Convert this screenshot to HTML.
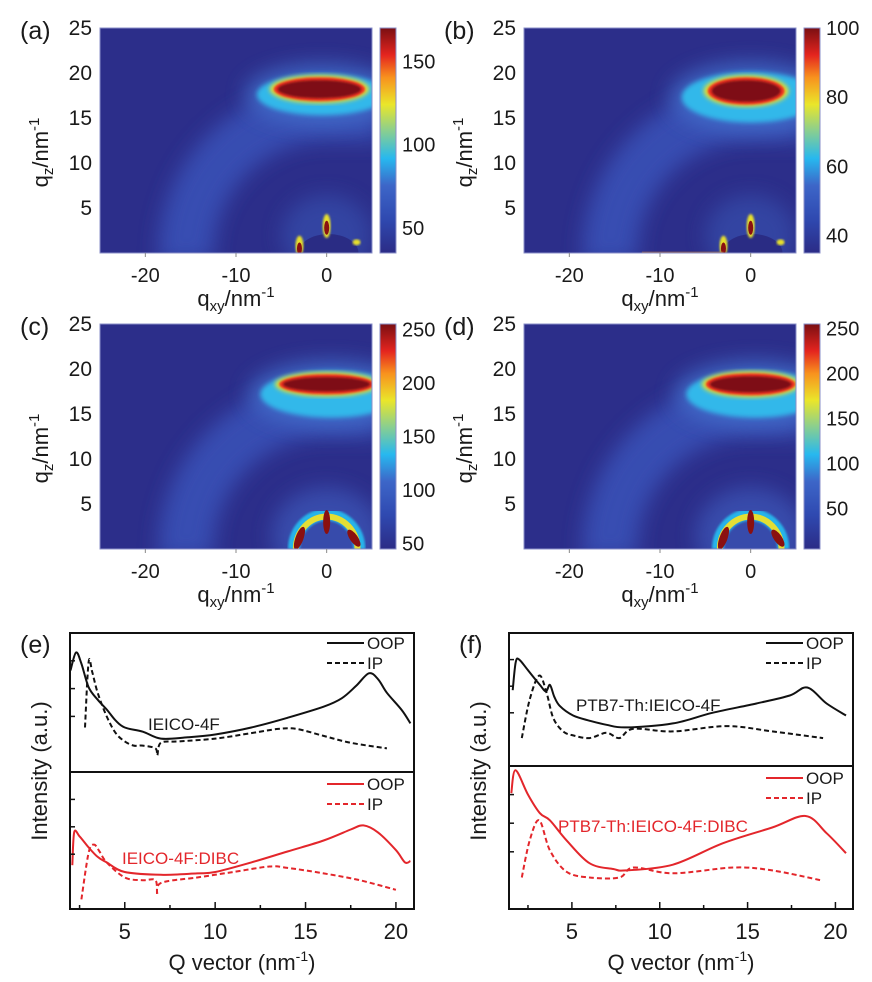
<!DOCTYPE html>
<html><head><meta charset="utf-8"><style>
html,body{margin:0;padding:0;background:#fff}
svg{display:block}
text{font-family:"Liberation Sans",sans-serif;fill:#1a1a1a}
</style></head><body>
<svg id="fig" width="872" height="982" viewBox="0 0 872 982" xmlns="http://www.w3.org/2000/svg">
<defs>
<linearGradient id="jet" x1="0" y1="1" x2="0" y2="0">
<stop offset="0" stop-color="#2b2c86"/><stop offset="0.15" stop-color="#2f49b0"/><stop offset="0.3" stop-color="#3d66c8"/>
<stop offset="0.42" stop-color="#27b8ef"/><stop offset="0.55" stop-color="#8fd08a"/><stop offset="0.66" stop-color="#eae62a"/>
<stop offset="0.78" stop-color="#f8921e"/><stop offset="0.88" stop-color="#e4241f"/><stop offset="1" stop-color="#7a0f12"/>
</linearGradient>
<filter id="blur8" x="-50%" y="-50%" width="200%" height="200%"><feGaussianBlur stdDeviation="10"/></filter>
<filter id="blur3"><feGaussianBlur stdDeviation="2.5"/></filter>
<filter id="blur1"><feGaussianBlur stdDeviation="1"/></filter>
</defs>
</svg>
<script>
// ---------- data ----------
const heatPanels = ['a','b','c','d'];
const heatX0 = [100,524,100,524];
const heatY0 = [28,28,324,324];
const cbTicks = [[150,100,50],[100,80,60,40],[250,200,150,100,50],[250,200,150,100,50]];
const cbMin = [35,35,45,5];
const cbMax = [170,100,255,255];
const qxyTicks = [-20,-10,0];
const qzTicks = [25,20,15,10,5];
// peak ellipse params per panel: [qxy, qz, rx, ry]
const peakCore = [[-0.8,18.2,4.6,1.0],[-0.5,18.0,3.8,1.2],[0,18.3,4.8,0.8],[0,18.3,4.5,0.9]];
const peakHalo = [[-0.5,17.6,7.2,2.3],[0,17.3,7.6,2.8],[0.5,17.2,7.8,2.6],[0.5,17.2,7.6,2.6]];

// line plots
const eOOPx=[2.0,2.3,2.6,3.0,3.5,4.0,4.5,5.0,6.0,7.0,8.5,10,12,14,16,17,17.8,18.5,19.0,19.5,20.3,20.8];
const eOOPy=[1.73,1.86,1.78,1.61,1.52,1.45,1.37,1.32,1.29,1.24,1.25,1.27,1.32,1.39,1.47,1.53,1.62,1.71,1.67,1.57,1.45,1.35];
const eIPx=[2.8,3.0,3.2,3.5,4.0,4.5,5.0,5.5,6.0,6.7,6.8,7.0,8,10,12,13.5,14.5,16,17.5,19.5];
const eIPy=[1.32,1.79,1.72,1.57,1.40,1.28,1.22,1.19,1.19,1.17,1.12,1.21,1.22,1.24,1.28,1.31,1.31,1.26,1.21,1.17];
const eOOPdx=[2.1,2.2,2.5,3.0,3.5,4.0,5.0,7.0,9.0,10,12,14,16,17.5,18.2,19,20,20.5,20.8];
const eOOPdy=[0.32,0.56,0.53,0.45,0.38,0.34,0.27,0.25,0.26,0.27,0.34,0.42,0.50,0.58,0.61,0.56,0.43,0.34,0.35];
const eIPdx=[2.6,3.0,3.3,3.6,4.0,5.0,6.0,6.7,6.8,7.0,9,11,13,14,16,18,20];
const eIPdy=[0.07,0.41,0.47,0.42,0.34,0.23,0.21,0.21,0.10,0.19,0.23,0.27,0.31,0.30,0.26,0.21,0.14];
const fOOPx=[1.63,1.8,2.0,2.5,3.18,3.52,3.75,4.0,4.32,5.07,6.02,6.97,8.1,10.75,13.0,15.5,17.4,18.4,19.5,20.6];
const fOOPy=[1.57,1.78,1.80,1.72,1.61,1.56,1.61,1.52,1.45,1.38,1.34,1.31,1.29,1.32,1.40,1.47,1.53,1.59,1.47,1.38];
const fIPx=[2.15,2.6,3.14,3.56,3.94,4.5,5.07,6.0,6.97,7.7,8.5,10.75,13.8,16.4,19.3];
const fIPy=[1.21,1.50,1.68,1.55,1.36,1.26,1.23,1.21,1.25,1.21,1.28,1.26,1.30,1.26,1.21];
const fOOPdx=[1.55,1.79,2.5,3.18,3.75,4.7,6.0,7.35,8.1,10.75,13.6,16.4,18.3,19.5,20.6];
const fOOPdy=[0.81,0.97,0.80,0.67,0.62,0.48,0.32,0.28,0.27,0.31,0.46,0.57,0.65,0.53,0.39];
const fIPdx=[2.15,2.6,3.14,3.75,4.7,6.0,7.7,8.5,10.75,14.2,16.4,19.2];
const fIPdy=[0.22,0.48,0.62,0.41,0.26,0.22,0.22,0.29,0.25,0.29,0.27,0.20];
const qTicks=[5,10,15,20];

// ---------- helpers ----------
const NS='http://www.w3.org/2000/svg';
const fig=document.getElementById('fig');
function mk(tag,attrs,parent){const e=document.createElementNS(NS,tag);for(const k in attrs)e.setAttribute(k,attrs[k]);(parent||fig).appendChild(e);return e;}
function txt(s,attrs,parent){const e=mk('text',attrs,parent);e.textContent=s;return e;}
function smooth(pts){
  let d='M'+pts[0][0].toFixed(1)+' '+pts[0][1].toFixed(1);
  for(let i=0;i<pts.length-1;i++){
    const p0=pts[Math.max(0,i-1)],p1=pts[i],p2=pts[i+1],p3=pts[Math.min(pts.length-1,i+2)];
    const c1=[p1[0]+(p2[0]-p0[0])/6,p1[1]+(p2[1]-p0[1])/6];
    const c2=[p2[0]-(p3[0]-p1[0])/6,p2[1]-(p3[1]-p1[1])/6];
    d+=` C${c1[0].toFixed(1)} ${c1[1].toFixed(1)} ${c2[0].toFixed(1)} ${c2[1].toFixed(1)} ${p2[0].toFixed(1)} ${p2[1].toFixed(1)}`;
  }
  return d;
}

// ---------- heatmaps ----------
const W=272,H=225;
heatPanels.forEach((p,i)=>{
  const x0=heatX0[i],y0=heatY0[i];
  const sx=q=>x0+(q+25)*W/30, sz=q=>y0+(25-q)*H/25;
  const g=mk('g',{});
  
  
  const cp=mk('clipPath',{id:'clip'+p},g);
  mk('rect',{x:x0,y:y0,width:W,height:H},cp);
  const inner=mk('g',{'clip-path':'url(#clip'+p+')'},g);
  mk('rect',{x:x0,y:y0,width:W,height:H,fill:'#2c2e8a'},inner);
  const r=15.5*W/30;
  const arc=mk('path',{d:`M ${sx(-15.5)} ${sz(-1)} A ${r} ${r} 0 0 1 ${sx(0)} ${sz(15.5)} L ${sx(6)} ${sz(15.5)}`,fill:'none',stroke:'#3a55bc','stroke-width':55,opacity:0.8,filter:'url(#blur8)'},inner);
  
  
  const ph=peakHalo[i],pc=peakCore[i];
  mk('ellipse',{cx:sx(ph[0]),cy:sz(ph[1]),rx:ph[2]*W/30+12,ry:ph[3]*H/25+10,fill:'#4270cc',opacity:0.8,filter:'url(#blur8)'},inner);
  mk('ellipse',{cx:sx(ph[0]),cy:sz(ph[1]),rx:ph[2]*W/30,ry:ph[3]*H/25,fill:'#30b8ea',filter:'url(#blur3)'},inner);
  mk('ellipse',{cx:sx(pc[0]),cy:sz(pc[1]),rx:pc[2]*W/30+8,ry:pc[3]*H/25+5,fill:'#e8e02c',filter:'url(#blur3)'},inner);
  mk('ellipse',{cx:sx(pc[0]),cy:sz(pc[1]),rx:pc[2]*W/30+4,ry:pc[3]*H/25+3,fill:'#ea3322',filter:'url(#blur1)'},inner);
  const core=mk('ellipse',{cx:sx(pc[0]),cy:sz(pc[1]),rx:pc[2]*W/30,ry:pc[3]*H/25,fill:'#7e1012',filter:'url(#blur1)'},inner);
  
  
  if(i<2){
    mk('ellipse',{cx:sx(0),cy:sz(2),rx:45,ry:40,fill:'#3753b2',opacity:0.6,filter:'url(#blur8)'},inner);
    mk('ellipse',{cx:sx(0.2),cy:sz(0),rx:30,ry:19,fill:'#2a2c84'},inner);
    mk('ellipse',{cx:sx(0),cy:sz(3),rx:4,ry:12,fill:'#e8e02c',filter:'url(#blur1)'},inner);
    mk('ellipse',{cx:sx(0),cy:sz(2.8),rx:2.5,ry:7,fill:'#8a1010'},inner);
    mk('ellipse',{cx:sx(-3),cy:sz(0.8),rx:4,ry:10,fill:'#e8e02c',filter:'url(#blur1)'},inner);
    mk('ellipse',{cx:sx(-3),cy:sz(0.5),rx:2.5,ry:6,fill:'#8a1010'},inner);
    mk('ellipse',{cx:sx(3.3),cy:sz(1.2),rx:4,ry:3,fill:'#e8e02c',filter:'url(#blur1)'},inner);
    if(i===1) mk('rect',{x:sx(-12),y:sz(0.15),width:sx(-3)-sx(-12),height:1.2,fill:'#d08030',opacity:0.6},inner);
  } else {
    const rr=3.2*W/30;
    mk('ellipse',{cx:sx(0),cy:sz(1.5),rx:55,ry:48,fill:'#3d58ba',opacity:0.7,filter:'url(#blur8)'},inner);
    mk('path',{d:`M ${sx(-3.6)} ${sz(0)} A ${rr} ${rr*1.05} 0 0 1 ${sx(3.6)} ${sz(0)}`,fill:'none',stroke:'#28b4ea','stroke-width':12,filter:'url(#blur1)'},inner);
    mk('path',{d:`M ${sx(-3.4)} ${sz(0)} A ${rr} ${rr*1.05} 0 0 1 ${sx(3.4)} ${sz(0)}`,fill:'none',stroke:'#e4de34','stroke-width':6},inner);
    mk('ellipse',{cx:sx(-3),cy:sz(1.2),rx:4,ry:12,fill:'#8a1010',transform:`rotate(20 ${sx(-3)} ${sz(1.2)})`},inner);
    mk('ellipse',{cx:sx(3),cy:sz(1.2),rx:4,ry:10,fill:'#8a1010',transform:`rotate(-35 ${sx(3)} ${sz(1.2)})`},inner);
    mk('ellipse',{cx:sx(0),cy:sz(3),rx:3.5,ry:12,fill:'#8a1010'},inner);
  }
  mk('rect',{x:x0,y:y0,width:W,height:H,fill:'none',stroke:'#8a8fc8','stroke-width':1},g);
  qxyTicks.forEach(t=>{
    mk('line',{x1:sx(t),x2:sx(t),y1:y0+H,y2:y0+H+4,stroke:'#888'},g);
    const tl=txt(String(t),{x:sx(t),y:y0+H+29,'font-size':20,'text-anchor':'middle'},g);
    
    
  });
  qzTicks.forEach(t=>{
    const tl=txt(String(t),{x:x0-8,y:sz(t)+7,'font-size':21,'text-anchor':'end'},g);
    
    
  });
  const lab=txt('('+p+')',{x:x0-80,y:y0+11,'font-size':25},g);
  
  
  const yt=txt('',{transform:`translate(${x0-52},${y0+H/2+12}) rotate(-90)`,'font-size':22,'text-anchor':'middle'},g);
  yt.innerHTML='q<tspan font-size="15" dy="5">z</tspan><tspan dy="-5">/nm</tspan><tspan font-size="15" dy="-9">-1</tspan>';
  
  
  const xt=txt('',{x:x0+W/2,y:y0+H+53,'font-size':22,'text-anchor':'middle'},g);
  xt.innerHTML='q<tspan font-size="15" dy="5">xy</tspan><tspan dy="-5">/nm</tspan><tspan font-size="15" dy="-9">-1</tspan>';
  
  
  const cx=x0+W+8;
  const cb=mk('rect',{x:cx,y:y0,width:16,height:H,fill:'url(#jet)',stroke:'#8a8fc8','stroke-width':1},g);
  
  
  cbTicks[i].forEach(t=>{
    const yy=y0+H-(t-cbMin[i])/(cbMax[i]-cbMin[i])*H;
    const tl=txt(String(t),{x:cx+22,y:yy+7,'font-size':20},g);
    
    
  });
});

// ---------- line plots ----------
const linePanels=[
 {id:'e',x0:70,x1:414,y0:633,y1:909,mid:772,xmin:1.97,xmax:21.0,
  series:[[eOOPx,eOOPy,'#111',''],[eIPx,eIPy,'#111','5,3'],[eOOPdx,eOOPdy,'#e3262b',''],[eIPdx,eIPdy,'#e3262b','5,3']],
  lab1:['IEICO-4F',148,730],lab2:['IEICO-4F:DIBC',122,864]},
 {id:'f',x0:509,x1:853,y0:633,y1:909,mid:766,xmin:1.42,xmax:21.0,
  series:[[fOOPx,fOOPy,'#111',''],[fIPx,fIPy,'#111','5,3'],[fOOPdx,fOOPdy,'#e3262b',''],[fIPdx,fIPdy,'#e3262b','5,3']],
  lab1:['PTB7-Th:IEICO-4F',576,711],lab2:['PTB7-Th:IEICO-4F:DIBC',558,832]}
];
linePanels.forEach(P=>{
  const g=mk('g',{});
  
  
  const X=v=>P.x0+(v-P.xmin)/(P.xmax-P.xmin)*(P.x1-P.x0);
  const Y=v=>v>=1? P.mid-(v-1)*(P.mid-P.y0) : P.y1-v*(P.y1-P.mid);
  P.series.forEach((s,k)=>{
    const pts=s[0].map((x,j)=>[X(x),Y(s[1][j])]);
    const path=mk('path',{d:smooth(pts),fill:'none',stroke:s[2],'stroke-width':2,'stroke-dasharray':s[3]||'none','stroke-linejoin':'round'},g);
    
    
  });
  mk('rect',{x:P.x0,y:P.y0,width:P.x1-P.x0,height:P.y1-P.y0,fill:'none',stroke:'#111','stroke-width':2},g);
  mk('line',{x1:P.x0,x2:P.x1,y1:P.mid,y2:P.mid,stroke:'#111','stroke-width':2},g);
  [0.2,0.4,0.6].forEach(f=>{
    [P.y0+f*(P.mid-P.y0),P.mid+f*(P.y1-P.mid)].forEach(yy=>mk('line',{x1:P.x0,x2:P.x0+5,y1:yy,y2:yy,stroke:'#111','stroke-width':1.5},g));
  });
  for(let t=2.5;t<=20;t+=2.5){
    mk('line',{x1:X(t),x2:X(t),y1:P.y1,y2:P.y1-(t%5?4:7),stroke:'#111','stroke-width':1.5},g);
  }
  qTicks.forEach(t=>{
    const tl=txt(String(t),{x:X(t),y:P.y1+30,'font-size':22,'text-anchor':'middle'},g);
    
    
  });
  const xt=txt('',{x:(P.x0+P.x1)/2,y:P.y1+61,'font-size':22,'text-anchor':'middle'},g);
  xt.innerHTML='Q vector (nm<tspan font-size="14" dy="-9">-1</tspan><tspan dy="9">)</tspan>';
  
  
  const yt=txt('Intensity (a.u.)',{transform:`translate(${P.x0-23},${(P.y0+P.y1)/2}) rotate(-90)`,'font-size':22,'text-anchor':'middle'},g);
  
  
  const lab=txt('('+P.id+')',{x:P.x0-50,y:P.y0+20,'font-size':25},g);
  
  
  const la=txt(P.lab1[0],{x:P.lab1[1],y:P.lab1[2],'font-size':17},g);
  
  
  const lb=txt(P.lab2[0],{x:P.lab2[1],y:P.lab2[2],'font-size':17,style:'fill:#e3262b'},g);
  
  
  [[P.y0+10,'#111'],[P.mid+12,'#e3262b']].forEach(([ly,c])=>{
    const lg=mk('g',{},g);
    
    
    mk('line',{x1:P.x1-87,x2:P.x1-50,y1:ly,y2:ly,stroke:c,'stroke-width':2},lg);
    txt('OOP',{x:P.x1-47,y:ly+6,'font-size':17},lg);
    mk('line',{x1:P.x1-87,x2:P.x1-50,y1:ly+20,y2:ly+20,stroke:c,'stroke-width':2,'stroke-dasharray':'5,3'},lg);
    txt('IP',{x:P.x1-47,y:ly+26,'font-size':17},lg);
  });
});
</script>
</body></html>
